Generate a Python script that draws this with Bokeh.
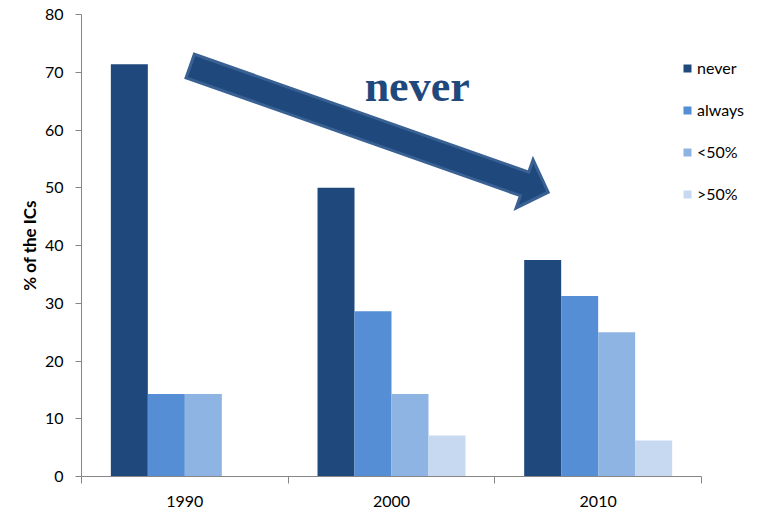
import numpy as np
from bokeh.plotting import figure
from bokeh.models import (ColumnDataSource, Legend, LegendItem, FixedTicker,
                          Range1d, Label)
from bokeh.embed import file_html
from bokeh.resources import INLINE

# ---- data ----
years = ["1990", "2000", "2010"]
series = ["never", "always", "<50%", ">50%"]
never = [71.4, 50.0, 37.5]
always = [14.3, 28.6, 31.25]
lt50 = [14.3, 14.3, 25.0]
gt50 = [0.0, 7.1, 6.25]
values = [never, always, lt50, gt50]
colors = ["#1F497D", "#558ED5", "#8EB4E3", "#C6D9F1"]
y_ticks = [0, 10, 20, 30, 40, 50, 60, 70, 80]
arrow_label = "never"

# ---- geometry ----
W, H = 759, 510
L, R, T, B = 81, 0, 14, 34
FW, FH = W - L - R, H - T - B
AXIS_PX = 620                     # pixel length of the category axis
NCAT = len(years)
XMAX, YMAX = NCAT * FW / AXIS_PX, 80.0
FONT = "Lato"

p = figure(width=W, height=H, output_backend="svg", toolbar_location=None,
           x_range=Range1d(0, XMAX), y_range=Range1d(0, YMAX),
           min_border_left=L, min_border_right=R, min_border_top=T,
           min_border_bottom=B)
p.outline_line_color = None
p.grid.grid_line_color = None
p.background_fill_color = "white"
p.border_fill_color = "white"

bw = 0.179
offsets = [(-1.5 + i) * bw for i in range(4)]
xs = np.arange(NCAT) + 0.5
renderers = []
for name, vals, off, col in zip(series, values, offsets, colors):
    src = ColumnDataSource(dict(x=xs + off, top=vals))
    r = p.vbar(x="x", top="top", bottom=0, width=bw, source=src,
               fill_color=col, line_color=None)
    renderers.append((name, r))

# ---- arrow annotation (shape) ----
sx = FW / XMAX
sy = FH / YMAX
tail = np.array([0.526, 71.08])
tip = np.array([2.258, 49.23])
tp = np.array([tail[0] * sx, -tail[1] * sy])
pp = np.array([tip[0] * sx, -tip[1] * sy])
d = pp - tp
u = d / np.linalg.norm(d)
n = np.array([-u[1], u[0]])
hw, hhw, hl = 12.5, 25.5, 25.0
base = pp - u * hl
pts = [tp + n * hw, base + n * hw, base + n * hhw, pp,
       base - n * hhw, base - n * hw, tp - n * hw]
ax = [q[0] / sx for q in pts]
ay = [-q[1] / sy for q in pts]
p.patch(ax, ay, fill_color="#1F497D", line_color="#3A6193", line_width=3,
        line_join="miter")

p.add_layout(Label(x=1.37, y=67.6, text=arrow_label, text_font="Liberation Serif",
                   text_font_style="bold", text_font_size="44px",
                   text_color="#1F497D", text_baseline="alphabetic"))

# ---- axes ----
xa = p.xaxis[0]
xa.bounds = (0, NCAT)
xa.ticker = FixedTicker(ticks=list(xs), minor_ticks=list(range(NCAT + 1)))
xa.major_label_overrides = {float(x): y for x, y in zip(xs, years)}
xa.major_tick_line_color = None
xa.major_tick_out = 0
xa.major_tick_in = 0
xa.minor_tick_out = 7
xa.minor_tick_in = 0
xa.minor_tick_line_color = "#868686"
xa.axis_line_color = "#868686"
xa.major_label_standoff = 12
xa.major_label_text_font = FONT
xa.major_label_text_font_size = "16px"
xa.major_label_text_color = "#000000"

ya = p.yaxis[0]
ya.ticker = FixedTicker(ticks=y_ticks)
ya.minor_tick_line_color = None
ya.major_tick_out = 6
ya.major_tick_in = 0
ya.major_tick_line_color = "#868686"
ya.axis_line_color = "#868686"
ya.major_label_standoff = 12
ya.major_label_text_font = FONT
ya.major_label_text_font_size = "16px"
ya.major_label_text_color = "#000000"
ya.axis_label = "% of the ICs"
ya.axis_label_text_font = FONT
ya.axis_label_text_font_style = "bold"
ya.axis_label_text_font_size = "17px"
ya.axis_label_text_color = "#000000"
ya.axis_label_standoff = 2

# ---- legend ----
legend = Legend(items=[LegendItem(label=nm, renderers=[r]) for nm, r in renderers],
                location=(601, 272), padding=0, margin=0, spacing=21,
                glyph_width=10, glyph_height=10, label_height=21,
                label_standoff=5, label_text_font=FONT,
                label_text_font_size="16px", label_text_color="#000000",
                border_line_color=None, background_fill_alpha=0)
p.add_layout(legend, "center")

open("out.html", "w").write(file_html(p, INLINE))
